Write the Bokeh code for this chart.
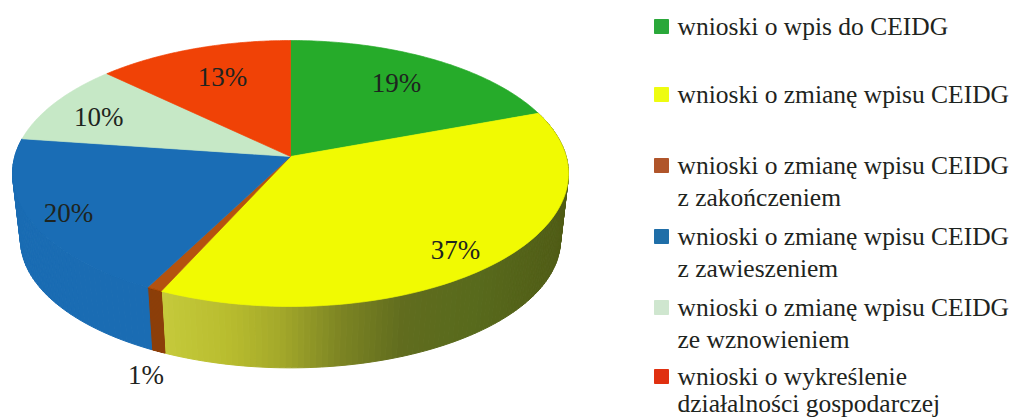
import numpy as np
from bokeh.plotting import figure
from bokeh.models import ColumnDataSource, Range1d
from bokeh.core.properties import value
from bokeh.embed import file_html
from bokeh.resources import INLINE

# --- data -----------------------------------------------------------------
categories = [
    "wnioski o wpis do CEIDG",
    "wnioski o zmianę wpisu CEIDG",
    "wnioski o zmianę wpisu CEIDG\nz zakończeniem",
    "wnioski o zmianę wpisu CEIDG\nz zawieszeniem",
    "wnioski o zmianę wpisu CEIDG\nze wznowieniem",
    "wnioski o wykreślenie\ndziałalności gospodarczej",
]
shares = [19.4, 37.4, 0.8, 19.6, 9.9, 12.9]
labels = ["19%", "37%", "1%", "20%", "10%", "13%"]

# --- style ----------------------------------------------------------------
top_colors = ["#26ab2a", "#f1fa02", "#b4520f", "#1a6db5", "#c6e8c6", "#f04206"]
side_colors = ["#1a7a1e", None, "#8c3f0a", "#1a6cb3", "#a0c0a0", "#b03004"]
legend_colors = ["#2aa83a", "#eefc10", "#b0552a", "#1f6ea8", "#cfe6cf", "#e03010"]
ink = "#1e2420"
serif = "Liberation Serif"
label_size = "27px"
legend_size = "25.5px"

# perspective pie geometry, in page pixels
CX, AP_Y = 290.0, 156.0      # apex on the screen
A, B, K = 275.7, 130.8, 0.1278
A2, B2, BASE_Y = 267.8, 125.9, 223.0

label_r = [0.737, 0.856, 1.445, 0.867, 0.79, 0.707]
label_deg = [34.2, 140.2, 197.4, 241.6, 293.7, 337.8]

legend_x, legend_text_x = 661, 677
legend_rows = [[26], [94], [165, 197], [236, 268], [307, 339], [376, 403]]

grad_x = [160, 230, 280, 340, 400, 470, 560]
grad_rgb = np.array([[0xc6, 0xcb, 0x3c], [0xb8, 0xbc, 0x2e], [0xa3, 0xa8, 0x2a],
                     [0x7c, 0x84, 0x23], [0x60, 0x6c, 0x1e], [0x58, 0x6a, 0x1c],
                     [0x50, 0x5c, 0x16]], dtype=float)


def top_xy(theta):
    u, v = np.sin(theta), np.cos(theta)
    w = 1 + K * v
    return CX + A * u / w, AP_Y - B * v / w


def base_xy(theta):
    u, v = np.sin(theta), np.cos(theta)
    w = 1 + K * v
    return CX + A2 * u / w, BASE_Y - B2 * v / w


def hex_of(rgb):
    return "#%02x%02x%02x" % tuple(int(round(c)) for c in rgb)


edges = np.radians(np.concatenate([[0], np.cumsum(shares)]) * 3.6)

W, H = 1011, 419
p = figure(width=W, height=H, output_backend="svg", toolbar_location=None,
           x_range=Range1d(0, W), y_range=Range1d(H, 0),
           min_border=0, outline_line_color=None, border_fill_color="white",
           background_fill_color="white")
p.axis.visible = False
p.grid.visible = False

# side wall
xs, ys, cols = [], [], []
for i in range(1, 4):
    steps = 120 if i == 1 else 50
    th = np.linspace(edges[i], edges[i + 1], steps + 1)
    tx, ty = top_xy(th)
    bx, by = base_xy(th)
    for j in range(steps):
        xs.append([tx[j], tx[j + 1], bx[j + 1], bx[j]])
        ys.append([ty[j], ty[j + 1], by[j + 1], by[j]])
        if i == 1:
            mid = (bx[j] + bx[j + 1]) / 2
            rgb = [np.interp(mid, grad_x, grad_rgb[:, c]) for c in range(3)]
            cols.append(hex_of(rgb))
        else:
            cols.append(side_colors[i])
p.patches("x", "y", source=ColumnDataSource(dict(x=xs, y=ys, c=cols)),
          fill_color="c", line_color="c", line_width=1)

# top faces
xs, ys = [], []
for i in range(len(shares)):
    th = np.linspace(edges[i], edges[i + 1], 90)
    tx, ty = top_xy(th)
    xs.append([CX, *tx])
    ys.append([AP_Y, *ty])
p.patches("x", "y", source=ColumnDataSource(dict(x=xs, y=ys, c=top_colors)),
          fill_color="c", line_color="c", line_width=0.7)

# data labels
lt = np.radians(label_deg)
lu, lv = np.array(label_r) * np.sin(lt), np.array(label_r) * np.cos(lt)
lw = 1 + K * lv
p.text(CX + A * lu / lw, AP_Y - B * lv / lw, text=labels,
       text_font=value(serif), text_font_size=label_size, text_color=ink,
       text_align="center", text_baseline="middle")

# legend
p.scatter([legend_x] * 6, [r[0] for r in legend_rows], marker="square", size=14,
          fill_color=legend_colors, line_color=legend_colors)
tx, ty, tt = [], [], []
for cat, rows in zip(categories, legend_rows):
    for line, y in zip(cat.split("\n"), rows):
        tx.append(legend_text_x)
        ty.append(y)
        tt.append(line)
p.text(tx, ty, text=tt, text_font=value(serif), text_font_size=legend_size,
       text_color=ink, text_align="left", text_baseline="middle")

open("out.html", "w").write(file_html(p, INLINE))
